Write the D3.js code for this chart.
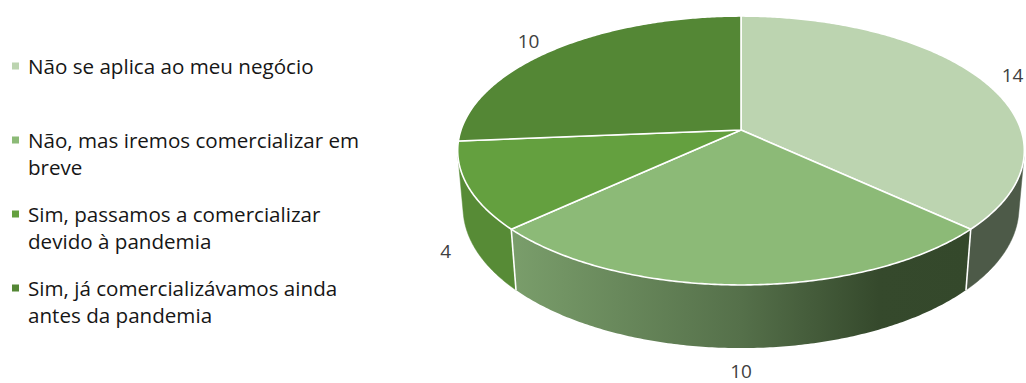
<!DOCTYPE html>
<html>
<head>
<meta charset="utf-8">
<script src="https://cdn.jsdelivr.net/npm/d3@7"></script>
<style>
  html, body { margin: 0; padding: 0; background: #ffffff; }
  svg { display: block; }
</style>
</head>
<body>
<svg id="chart" width="1026" height="383"></svg>
<script>
// Survey answers and counts
const categories = [
  "Não se aplica ao meu negócio",
  "Não, mas iremos comercializar em breve",
  "Sim, passamos a comercializar devido à pandemia",
  "Sim, já comercializávamos ainda antes da pandemia"
];
const values = [14, 10, 4, 10];
// Legend text broken into lines
const legendLines = [
  ["Não se aplica ao meu negócio"],
  ["Não, mas iremos comercializar em", "breve"],
  ["Sim, passamos a comercializar", "devido à pandemia"],
  ["Sim, já comercializávamos ainda", "antes da pandemia"]
];
const topColors = ["#bcd4b0", "#8cba77", "#64a03f", "#548735"];
const sideColors = ["#4d5a48", "url(#side-grad)", "#578b36", "#4a7a2e"];

const svg = d3.select("#chart");

// ---- 3D pie projection (perspective camera looking down on a disk) ----
const cx = 741, cy = 130;       // projected centre of the top face
const K = 280;                  // screen scale for the unit radius
const theta = Math.asin(0.469); // elevation angle of the camera
const sinT = Math.sin(theta), cosT = Math.cos(theta);
const Dist = 5.79;              // camera distance in radii
const thick = 0.233;            // disk thickness in radii

function project(alpha, r, level) {
  // alpha: pie angle (0 = 12 o'clock, clockwise); level 0 = top, 1 = bottom
  const u = r * Math.sin(alpha);
  const v = -r * Math.cos(alpha);
  const y = -level * thick;
  const depth = Dist - y * sinT - v * cosT;
  const s = Dist / depth;
  return [cx + K * u * s, cy - K * (y * cosT - v * sinT) * s];
}

const pie = d3.pie().sort(null).value(d => d)(values);

// visible span of the outer wall (normal facing the camera)
const vLimit = 1 / (Dist * cosT);
const visA0 = Math.acos(-vLimit);
const visA1 = 2 * Math.PI - visA0;

function arcPts(a0, a1, r, level) {
  const n = Math.max(2, Math.ceil(Math.abs(a1 - a0) / 0.01));
  return d3.range(n + 1).map(i => project(a0 + (a1 - a0) * i / n, r, level));
}

const defs = svg.append("defs");
const leftP = project(pie[1].endAngle, 1, 0);
const rightP = project(pie[1].startAngle, 1, 0);
const grad = defs.append("linearGradient")
  .attr("id", "side-grad")
  .attr("gradientUnits", "userSpaceOnUse")
  .attr("x1", leftP[0]).attr("y1", 0)
  .attr("x2", rightP[0]).attr("y2", 0);
grad.append("stop").attr("offset", 0).attr("stop-color", "#7a9e6b");
grad.append("stop").attr("offset", 0.5).attr("stop-color", "#55704a");
grad.append("stop").attr("offset", 0.8).attr("stop-color", "#35492c");
grad.append("stop").attr("offset", 1).attr("stop-color", "#34482b");

const line = d3.line();
const gPie = svg.append("g");

// outer walls
pie.forEach((d, i) => {
  const a0 = Math.max(d.startAngle, visA0);
  const a1 = Math.min(d.endAngle, visA1);
  if (a1 <= a0) return;
  const pts = arcPts(a0, a1, 1, 0).concat(arcPts(a1, a0, 1, 1));
  gPie.append("path")
    .attr("d", line(pts) + "Z")
    .attr("fill", sideColors[i])
    .attr("stroke", sideColors[i] === "url(#side-grad)" ? "none" : sideColors[i])
    .attr("stroke-width", 0.5);
});

// wall seams between slices
pie.forEach(d => {
  const a = d.startAngle;
  if (a > visA0 && a < visA1) {
    gPie.append("path")
      .attr("d", line([project(a, 1, 0), project(a, 1, 1)]))
      .attr("stroke", "#ffffff")
      .attr("stroke-width", 1.6)
      .attr("fill", "none");
  }
});

// top faces
pie.forEach((d, i) => {
  const pts = [project(0, 0, 0)].concat(arcPts(d.startAngle, d.endAngle, 1, 0));
  gPie.append("path")
    .attr("d", line(pts) + "Z")
    .attr("fill", topColors[i])
    .attr("stroke", "#ffffff")
    .attr("stroke-width", 1.6)
    .attr("stroke-linejoin", "round");
});

// data labels
const labelFont = "'Open Sans', Lato, sans-serif";
pie.forEach((d, i) => {
  const mid = (d.startAngle + d.endAngle) / 2;
  const front = -Math.cos(mid) > 0;
  const level = front ? 1 : 0;
  const a = project(mid, 1.05, level);
  const c = project(mid, 0, level);
  let dx = a[0] - c[0], dy = a[1] - c[1];
  const len = Math.hypot(dx, dy) || 1;
  dx /= len; dy /= len;
  const t = svg.append("text")
    .attr("font-family", labelFont)
    .attr("font-size", 19)
    .attr("fill", "#404040")
    .attr("text-anchor", "middle")
    .attr("dominant-baseline", "central")
    .text(values[i]);
  const bb = t.node().getBBox();
  t.attr("x", a[0] + dx * (bb.width / 2 + 8))
   .attr("y", a[1] + dy * (bb.height / 2));
});

// legend
const legendTop = [66, 140, 214, 288];
const lineGap = 26.5;
const gLeg = svg.append("g");
categories.forEach((c, i) => {
  gLeg.append("rect")
    .attr("x", 12).attr("y", legendTop[i] - 3.5)
    .attr("width", 7).attr("height", 7)
    .attr("fill", topColors[i]);
  const t = gLeg.append("text")
    .attr("font-family", labelFont)
    .attr("font-size", 20.6)
    .attr("fill", "#161616");
  legendLines[i].forEach((s, j) => {
    t.append("tspan")
      .attr("x", 28)
      .attr("y", legendTop[i] + j * lineGap)
      .attr("dominant-baseline", "central")
      .text(s);
  });
});
</script>
</body>
</html>
